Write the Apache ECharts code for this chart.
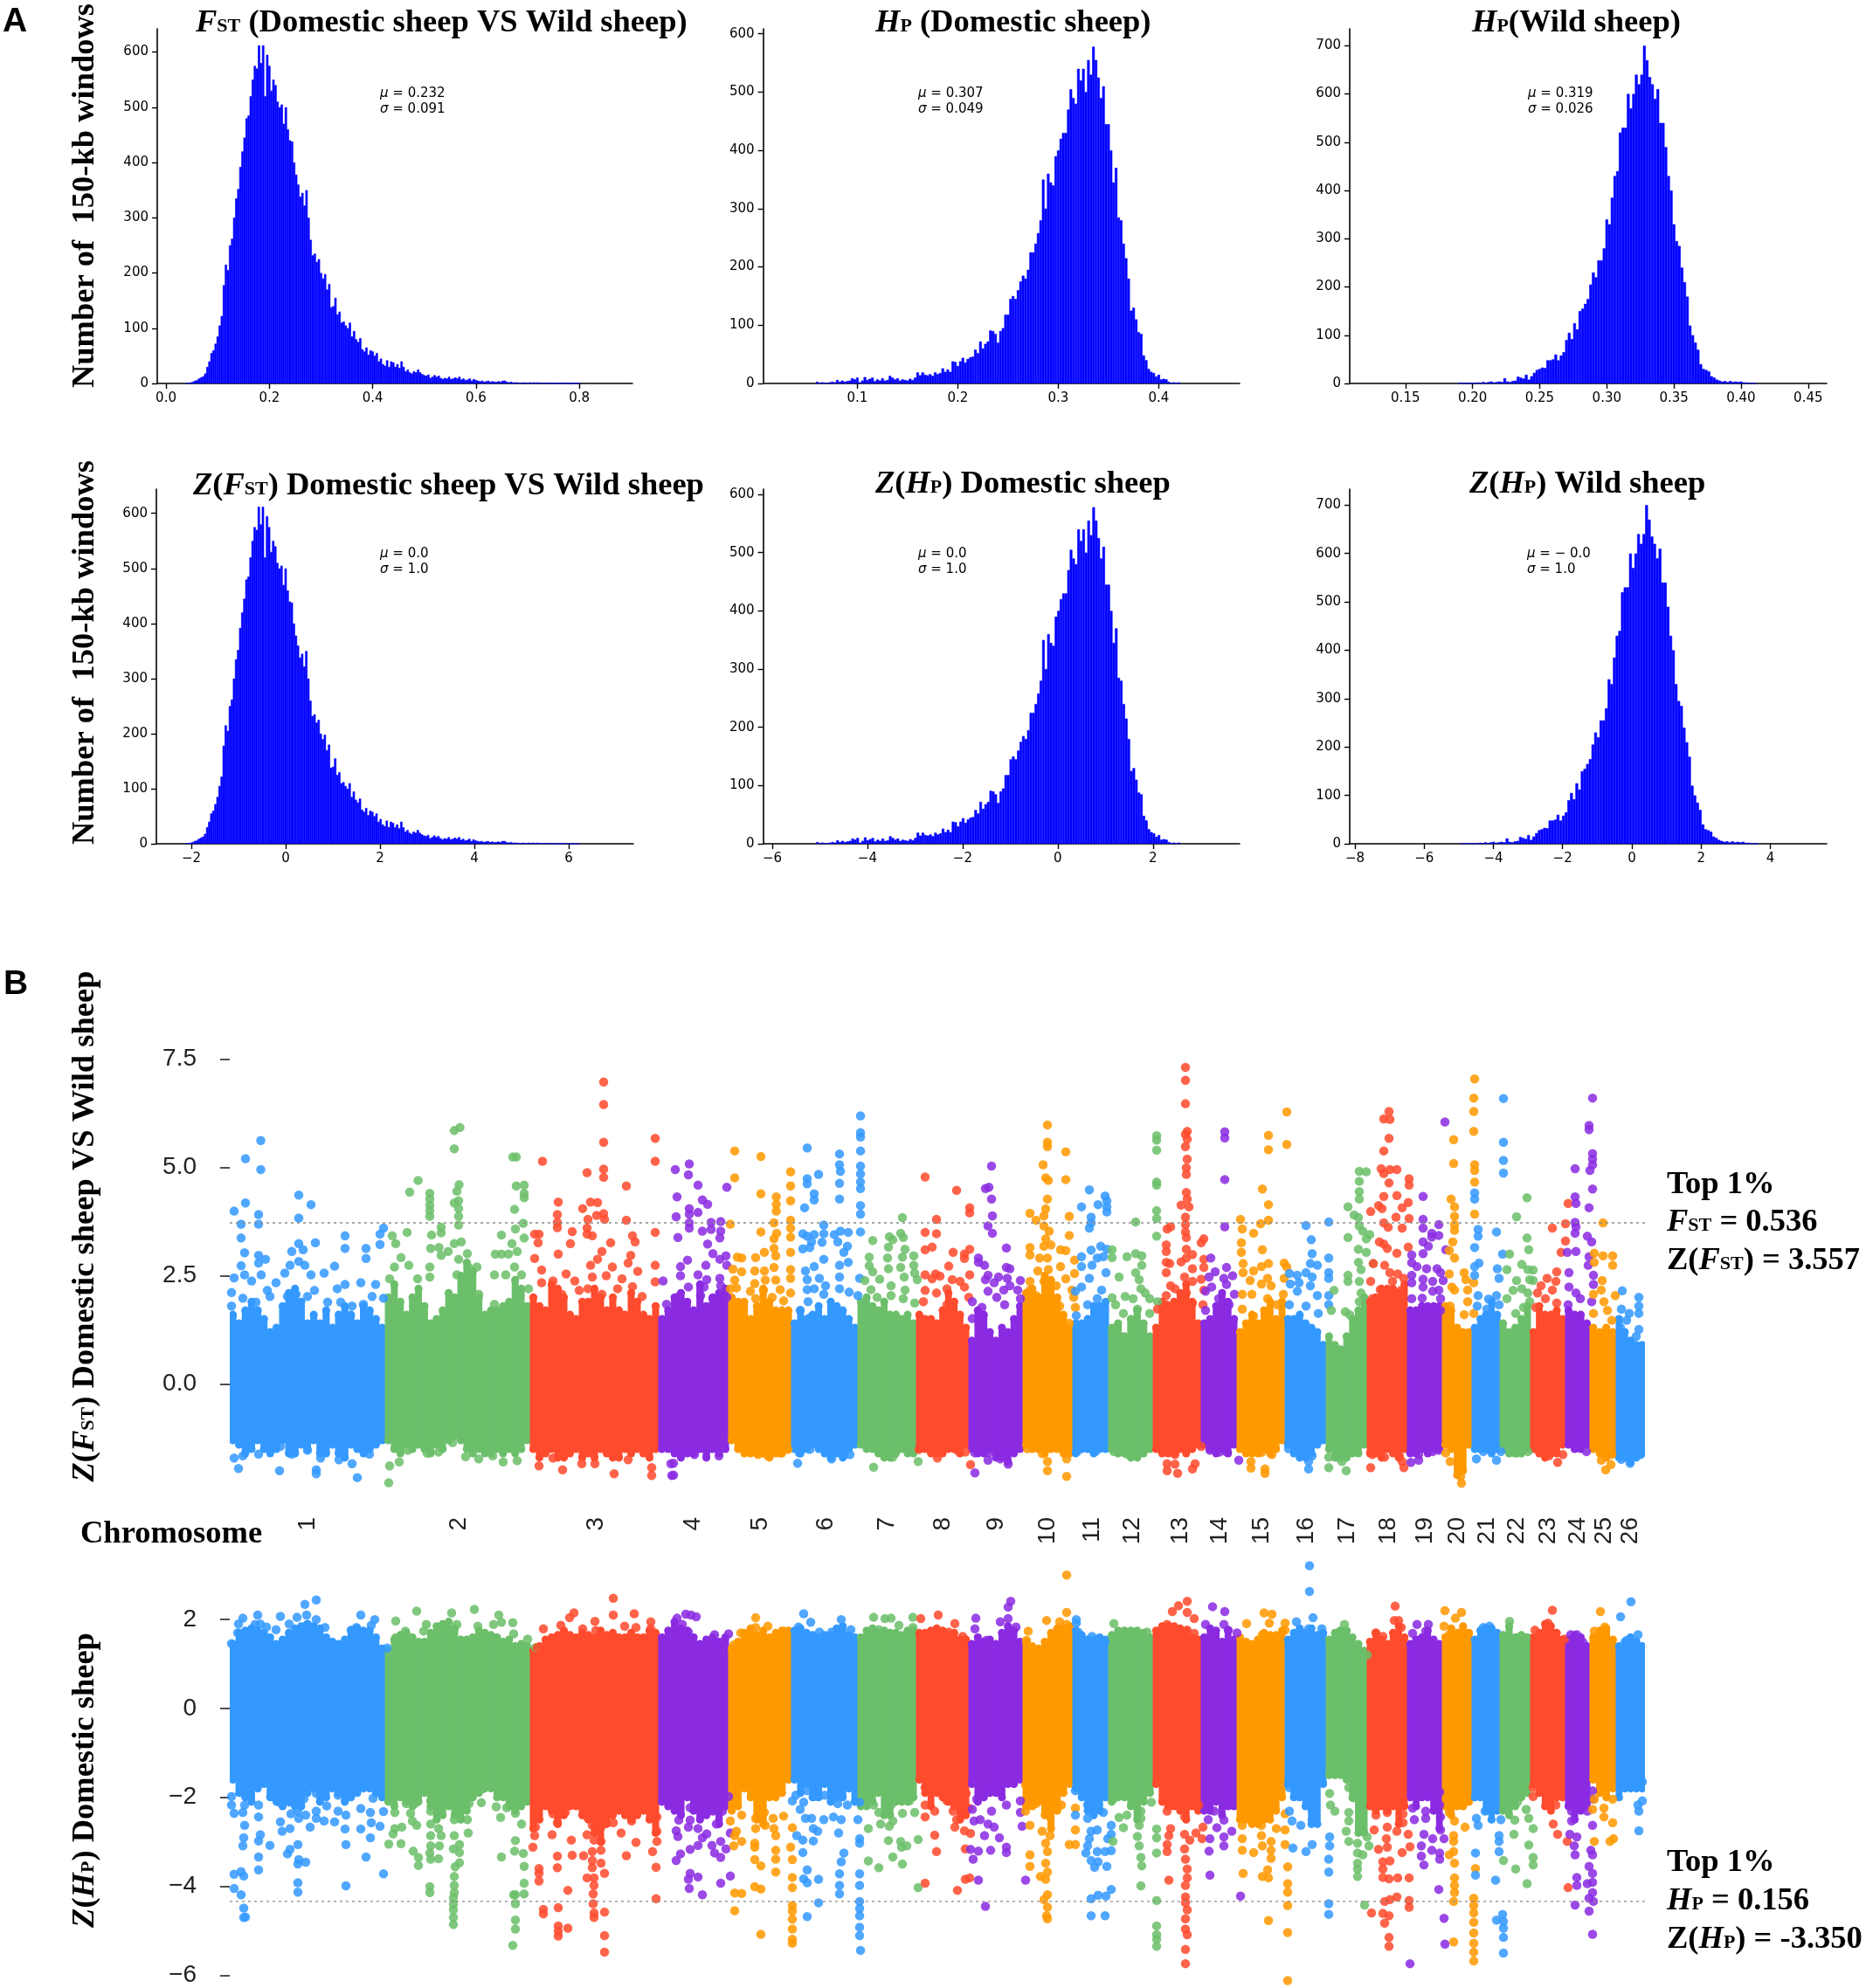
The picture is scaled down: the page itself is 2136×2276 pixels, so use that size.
<!DOCTYPE html>
<html><head><meta charset="utf-8">
<script src="https://cdn.jsdelivr.net/npm/echarts@6/dist/echarts.min.js"></script>
<style>html,body{margin:0;padding:0;background:#fff}#c{width:2136px;height:2276px}</style></head>
<body><div id="c"></div><script>
// ---------- histogram counts (panel A) ----------
const fstStart=0.04, fstStep=0.004;
const fstCounts=[1,1,2,3,5,6,9,11,13,18,30,40,55,60,72,85,105,122,178,215,205,250,262,300,335,352,392,420,445,480,485,520,550,575,570,612,580,612,520,595,575,530,550,540,510,500,505,470,500,460,440,438,400,378,360,338,345,322,350,300,260,232,235,220,225,200,190,198,170,180,138,140,155,125,130,110,112,105,100,110,85,95,80,75,82,62,58,65,52,60,58,50,55,40,45,35,32,42,30,40,38,30,35,28,40,30,22,25,20,18,22,20,25,20,17,15,14,16,10,12,15,12,14,10,8,10,9,12,8,9,11,9,12,7,9,6,7,9,5,8,6,5,4,5,3,4,5,3,4,3,3,4,3,5,5,3,2,3,2,2,2,1,1,2,1,1,2,1,2,1,2,1,1,1,0,1,1,0,0,1,0,0,0,1,1,0,0,0,1,0,1];
const hpDomStart=0.06, hpDomStep=0.0025;
const hpDomCounts=[3,1,2,1,1,2,3,2,6,3,5,3,4,5,9,7,10,2,5,11,6,8,10,4,7,5,9,5,6,13,10,7,9,5,7,6,5,8,6,10,19,14,19,15,14,16,13,19,16,18,26,20,24,20,38,37,30,38,44,36,42,45,46,58,52,72,60,68,72,91,90,85,70,90,95,118,118,145,150,145,160,175,185,180,195,225,225,240,258,280,350,300,360,345,340,390,400,420,430,430,470,505,490,480,540,520,540,500,555,530,578,555,525,490,510,445,445,400,345,370,285,280,240,215,180,125,130,110,88,85,48,40,25,20,18,12,15,7,8,7,3,1,2,1,2];
const hpWildStart=0.19, hpWildStep=0.002;
const hpWildCounts=[1,1,1,1,0,0,1,2,1,3,1,3,4,2,3,4,3,11,4,3,5,6,14,12,10,18,8,15,22,28,30,33,32,48,48,50,60,48,58,65,90,105,92,125,112,150,155,165,175,205,230,220,255,255,280,340,330,385,430,440,520,530,530,600,570,600,640,620,640,700,670,635,620,590,610,540,540,490,430,400,330,295,285,240,210,180,120,100,85,70,40,30,28,25,15,12,8,6,4,5,3,5,3,4,3,4,2,2,1,1,0];
// standardisation used by the Z panels (centre, scale)
const zFst=[0.232,0.0914], zHpDom=[0.2993,0.0474], zHpWild=[0.317,0.0258];
// tick labels
const ticks600=[0,100,200,300,400,500,600], ticks700=[0,100,200,300,400,500,600,700];
const xTicksFst=[0,0.2,0.4,0.6,0.8], xTicksHpDom=[0.1,0.2,0.3,0.4], xTicksHpWild=[0.15,0.2,0.25,0.3,0.35,0.4,0.45];
const xTicksZFst=[-2,0,2,4,6], xTicksZDom=[-6,-4,-2,0,2], xTicksZWild=[-8,-6,-4,-2,0,2,4];
// ---------- panel B ----------
const chrLabels=['1','2','3','4','5','6','7','8','9','10','11','12','13','14','15','16','17','18','19','20','21','22','23','24','25','26'];
const chrEdges=[263,441,607,754,834,906,982,1049,1109,1171,1228,1269,1320,1375,1416,1471,1518,1565,1611,1651,1685,1717,1752,1792,1820,1850,1883];
const chrMids=[352,525.5,682,793,870,945,1015,1079,1140,1199,1250,1296,1351,1396,1444.6,1495,1542,1589,1631,1668.5,1702,1736,1772,1806.6,1836,1866];
const fstThreshold=3.72, hpThreshold=-4.34;
// upper and lower edge of the densely filled band along each chromosome
const fstHi=[[1.6,1.4,1.7,1.9,1.7,1.5,1.2,1.3,1.8,2.1,2.2,1.9,1.4,1.6,1.4,1.7,1.3,1.6,1.8,1.6,1.4,1.8,1.7,1.5,1.3],[2.0,2.3,1.9,1.6,2.0,2.2,1.8,1.4,1.5,1.7,2.1,2.0,2.5,2.8,2.6,2.0,1.6,1.7,1.7,1.8,1.9,2.4,2.2,1.8],[2.0,1.8,1.7,2.3,2.2,2.0,1.6,1.5,1.9,1.9,2.2,2.0,1.7,2.0,1.7,1.6,2.1,1.9,1.6,1.5,1.8],[1.5,1.7,2.0,2.1,1.9,1.7,2.3,1.8,2.0,2.1,2.2],[2.0,1.9,1.9,1.5,1.8,2.2,1.9,1.7,1.7,1.7],[1.4,1.7,1.5,1.6,1.8,1.5,1.9,1.8,1.7,1.5,1.3],[1.9,2.0,1.8,1.7,1.9,1.6,1.6,1.5,1.6,1.4],[1.6,1.5,1.5,1.4,1.7,2.1,1.9,1.6,1.3],[1.0,1.7,1.6,1.2,1.0,1.3,1.2,1.5,1.8],[2.1,2.2,2.0,2.5,2.4,2.0,1.6,1.3],[1.4,1.4,1.5,1.8,1.8,1.9],[1.3,1.4,1.1,1.5,1.7,1.4,1.1],[1.3,1.9,1.8,1.9,2.1,2.3,1.9,1.4],[1.4,1.5,1.8,2.1,1.9,1.5],[1.2,1.4,1.6,1.4,1.7,1.9,1.5,1.9],[1.5,1.5,1.6,1.4,1.3,1.2,0.9],[1.1,0.9,0.8,1.1,1.5,1.7,2.0],[1.9,2.0,2.2,2.2,2.2,2.1,2.3],[1.7,1.7,1.8,1.8,1.8,1.8],[1.8,1.7,1.3,1.2,1.2],[1.3,1.5,1.6,1.9,1.6],[1.4,1.2,1.3,1.5,1.8],[1.2,1.8,1.6,1.6,1.7,1.5],[1.7,1.6,1.6,1.4],[1.3,1.2,1.3,1.2],[1.5,1.2,1.0,0.9,0.9]];
const fstLo=[[-1.3,-1.4,-1.6,-1.5,-1.3,-1.5,-1.6,-1.5,-1.3,-1.6,-1.6,-1.4,-1.5,-1.3,-1.6,-1.6,-1.4,-1.6,-1.7,-1.4,-1.5,-1.6,-1.5,-1.4,-1.3],[-1.3,-1.5,-1.6,-1.4,-1.5,-1.4,-1.5,-1.6,-1.4,-1.5,-1.3,-1.2,-1.3,-1.5,-1.6,-1.5,-1.6,-1.6,-1.5,-1.6,-1.5,-1.6,-1.5,-1.3],[-1.5,-1.7,-1.6,-1.5,-1.7,-1.7,-1.6,-1.5,-1.7,-1.6,-1.7,-1.5,-1.6,-1.7,-1.7,-1.5,-1.6,-1.5,-1.6,-1.7,-1.5],[-1.5,-1.5,-1.6,-1.7,-1.6,-1.6,-1.5,-1.7,-1.5,-1.6,-1.5],[-1.3,-1.5,-1.6,-1.6,-1.6,-1.6,-1.7,-1.6,-1.6,-1.5],[-1.5,-1.6,-1.5,-1.4,-1.5,-1.6,-1.7,-1.6,-1.7,-1.5,-1.4],[-1.4,-1.5,-1.5,-1.6,-1.7,-1.7,-1.6,-1.5,-1.6,-1.6],[-1.5,-1.5,-1.6,-1.6,-1.6,-1.5,-1.5,-1.6,-1.4],[-1.5,-1.6,-1.6,-1.5,-1.7,-1.7,-1.8,-1.6,-1.5],[-1.4,-1.5,-1.5,-1.6,-1.5,-1.5,-1.6,-1.6],[-1.6,-1.5,-1.5,-1.6,-1.5,-1.5],[-1.5,-1.6,-1.6,-1.7,-1.7,-1.6,-1.5],[-1.5,-1.6,-1.6,-1.6,-1.5,-1.6,-1.5,-1.4],[-1.4,-1.5,-1.6,-1.5,-1.6,-1.4],[-1.5,-1.6,-1.6,-1.6,-1.5,-1.6,-1.5,-1.3],[-1.4,-1.6,-1.7,-1.7,-1.6,-1.4,-1.3],[-1.5,-1.7,-1.7,-1.7,-1.6,-1.6,-1.4],[-1.6,-1.6,-1.7,-1.5,-1.6,-1.7,-1.5],[-1.6,-1.6,-1.5,-1.6,-1.5,-1.5],[-1.4,-1.5,-2.1,-2.0,-1.4],[-1.5,-1.5,-1.5,-1.6,-1.5],[-1.5,-1.6,-1.6,-1.6,-1.5],[-1.5,-1.6,-1.7,-1.6,-1.6,-1.4],[-1.4,-1.5,-1.5,-1.4],[-1.5,-1.6,-1.7,-1.6],[-1.7,-1.7,-1.8,-1.7,-1.6]];
const hpHi=[[1.45,1.7,1.75,1.8,1.75,1.7,1.6,1.45,1.55,1.7,1.8,1.85,1.9,1.85,1.8,1.6,1.5,1.45,1.55,1.75,1.8,1.75,1.75,1.6,1.35],[1.3,1.55,1.65,1.7,1.6,1.5,1.5,1.7,1.85,1.9,1.95,1.8,1.55,1.55,1.6,1.75,1.7,1.65,1.6,1.5,1.55,1.4,1.45,1.4],[1.3,1.4,1.55,1.6,1.65,1.75,1.65,1.6,1.7,1.65,1.6,1.75,1.65,1.7,1.6,1.6,1.7,1.6,1.6,1.75,1.7],[1.6,1.75,1.95,1.8,1.75,1.6,1.45,1.55,1.6,1.5,1.6],[1.35,1.5,1.7,1.8,1.65,1.75,1.6,1.7,1.75,1.75],[1.75,1.8,1.7,1.65,1.6,1.65,1.65,1.8,1.85,1.65,1.6],[1.6,1.75,1.8,1.7,1.75,1.7,1.7,1.65,1.75,1.75],[1.7,1.7,1.75,1.8,1.75,1.65,1.7,1.55,1.55],[1.45,1.6,1.5,1.55,1.45,1.7,1.85,1.75,1.5],[1.5,1.4,1.35,1.5,1.7,1.8,1.8,1.85],[1.75,1.65,1.55,1.55,1.6,1.55],[1.65,1.75,1.75,1.75,1.75,1.7,1.6],[1.75,1.85,1.85,1.85,1.8,1.75,1.6,1.55],[1.6,1.8,1.75,1.5,1.75,1.55],[1.6,1.5,1.45,1.55,1.7,1.65,1.65,1.75],[1.55,1.7,1.8,1.7,1.8,1.65,1.7],[1.55,1.7,1.75,1.75,1.6,1.45,1.3],[1.5,1.7,1.55,1.45,1.7,1.85,1.6],[1.45,1.55,1.6,1.75,1.55,1.45],[1.6,1.8,1.7,1.85,1.7],[1.55,1.75,1.8,1.8,1.7],[1.65,1.85,1.6,1.65,1.6],[1.6,1.7,1.9,1.85,1.7,1.55],[1.55,1.65,1.6,1.4],[1.6,1.75,1.8,1.55],[1.4,1.5,1.6,1.5,1.4]];
const hpLo=[[-1.6,-1.9,-2.0,-2.1,-1.8,-1.7,-2.0,-2.1,-2.2,-2.1,-2.2,-2.2,-1.9,-1.8,-2.1,-2.0,-1.8,-1.9,-2.1,-2.0,-1.9,-1.8,-1.8,-1.9,-2.0],[-2.1,-2.2,-2.0,-2.1,-2.2,-2.1,-1.9,-2.2,-2.5,-2.4,-2.2,-2.4,-2.5,-2.3,-2.0,-1.9,-1.8,-1.8,-2.0,-2.0,-2.2,-2.3,-2.2,-2.1],[-2.7,-2.5,-2.2,-2.3,-2.6,-2.4,-2.2,-2.2,-2.4,-2.5,-2.8,-3.0,-2.6,-2.4,-2.3,-2.4,-2.5,-2.4,-2.3,-2.5,-2.8],[-2.1,-2.2,-2.3,-2.4,-2.0,-2.3,-2.5,-2.4,-2.3,-2.6,-2.2],[-2.3,-2.2,-1.8,-2.0,-2.5,-2.6,-2.0,-2.0,-1.9,-1.6],[-1.6,-1.9,-1.7,-2.0,-2.0,-1.7,-2.1,-2.0,-2.0,-1.8,-2.1],[-2.2,-2.2,-2.1,-1.9,-2.4,-2.4,-2.1,-2.1,-2.1,-2.0],[-1.6,-1.9,-2.2,-1.9,-2.0,-2.1,-2.2,-2.5,-2.4],[-1.7,-2.1,-2.0,-1.9,-1.9,-2.0,-1.7,-1.7,-1.6],[-2.2,-2.2,-2.1,-2.4,-2.7,-2.3,-1.9,-1.7],[-1.8,-2.0,-2.3,-2.4,-2.3,-2.0],[-2.1,-2.0,-2.0,-2.2,-2.5,-2.1,-1.9],[-1.7,-2.1,-2.2,-2.2,-2.3,-2.5,-2.2,-2.3],[-2.3,-2.3,-2.1,-2.4,-2.2,-2.2],[-2.5,-2.5,-2.6,-2.6,-2.5,-2.5,-2.3,-2.0],[-1.7,-2.0,-2.0,-2.2,-2.6,-2.6,-1.7],[-1.5,-1.5,-1.5,-1.6,-2.0,-2.8,-2.8],[-2.2,-2.3,-2.2,-2.3,-2.2,-2.6,-2.2],[-2.0,-2.2,-2.0,-2.0,-2.3,-2.7],[-2.2,-2.4,-2.2,-2.2,-2.1],[-2.0,-2.0,-2.3,-2.5,-2.3],[-2.3,-2.4,-2.2,-2.0,-1.9],[-1.7,-1.9,-2.2,-2.3,-2.0,-2.0],[-2.2,-2.5,-2.3,-2.2],[-1.6,-1.9,-2.0,-1.8],[-2.0,-1.8,-1.8,-1.8,-1.8]];
// individual visible windows: position,value pairs per chromosome
const fstDots=[
[298.5,5.62,281,5.2,298.5,4.95,281,4.18,268,3.99,296,3.91,276,3.69,296,3.69,276,3.37,280,3.03,296,2.97,304,2.88,296,2.79,276,2.73,280,2.52,268,2.45,299,2.52,288,2.38,342,4.36,356,4.14,342,3.83,361,3.26,342,3.24,334,3.06,347,3.1,342,2.83,332,2.74,349,2.74,356,2.52,371,2.56,383,2.72,326,2.56,316,2.34,395,3.42,395,3.13,419,3.13,419,2.9,435,3.46,439,3.6,435,3.22,413,2.34,395,2.3,386,2.2,430,2.3,306,2.16,265,2.11,265,1.8,278,1.98,293,1.89,309,2.02,329,2.02,339,2.07,352,2.02,360,2.16,375,1.89,390,1.89,403,1.8,426,2.02,439,1.98,416,1.84,268,-1.71,273,-1.95,278,-1.66,320,-2,362,-1.98,362,-2.07,409,-2.16,403,-1.84,334,-1.62,296,-1.62,367,-1.71,388,-1.75,423,-1.62,321,-1.44,352,-1.53],
[520,5.85,526.5,5.92,520,5.43,478.6,4.7,469,4.43,525.5,4.6,492,4.4,523,4.45,492,4.27,492,4.13,492,4,492,3.87,525,4.23,520,4.18,525,4.05,525,3.87,525,3.67,587,5.24,591,5.24,591,4.57,600,4.59,600,4.4,600,4.3,589,4.03,599,3.71,590,3.58,600,3.37,574,3.44,505,3.62,505,3.49,466,3.5,449,3.42,494,3.44,453,3.24,459,2.92,451.5,2.7,446,2.43,468,2.74,478,2.43,493,3.13,502.5,3.15,505,2.97,513,3.06,520,3.24,528,3.28,535,3.01,525,2.88,536,2.7,546,2.7,567,3,574,3,582,3,586,3.24,592,3.06,566,2.52,579,2.52,589,2.7,597,2.52,605,2.2,492,2.7,492,2.47,523,2.52,536,2.2,548,2.07,566,1.84,446,-1.89,457,-1.8,445,-2.28,489,-1.6,502,-1.57,533,-1.68,548,-1.73,564,-1.66,576,-1.8,592,-1.77,467,-1.53,518,-1.35],
[621,5.14,750,5.67,750,5.14,691,6.97,691,6.45,691,5.58,691,4.96,691,4.77,672,4.88,717,4.57,639,4.2,667,4.05,676,4.2,684,4.19,683,3.89,691,3.93,692,3.8,638,3.91,638,3.73,638,3.61,673,3.8,672,3.6,717,3.78,750,3.5,612,3.46,617,3.46,616,3.26,655,3.52,672,3.46,678,3.42,653,3.24,699,3.26,724,3.42,727,3.28,639,3,612,2.9,689,3.06,684,2.88,722,2.97,719,2.79,676,2.74,701,2.7,750,2.74,730,2.6,620,2.63,648,2.54,658,2.38,678,2.47,694,2.5,712,2.43,750,2.36,620,2.34,633,2.38,663,2.16,673,2.2,724,2.25,735,2.02,643,2.07,689,2.07,707,2.2,617,-1.89,644,-1.98,703,-2.07,746,-1.93,746,-2.11,681,-1.84,666,-1.84,719,-1.75,633,-1.71],
[759,2.38,773,4.95,789,5.08,788,4.83,799,4.59,832,4.54,775,4.32,804,4.25,810,4.15,789,4.05,799,3.96,774,3.86,789,3.92,789,3.72,789,3.6,814,3.73,825,3.75,804,3.53,814,3.57,825,3.53,776,3.38,824,3.37,810,3.23,816,3.01,787,2.86,808,2.74,779,2.71,824,2.88,831,2.96,832,2.74,779,2.5,799,2.52,809,2.41,824,2.44,788,2.24,806,2.24,825,2.27,775,2,784,1.87,802,2.04,816,1.97,832,2,763,1.84,768,-1.84,769,-2.11,823,-1.66,771,-1.83,771,-2.1,795,-1.63,809,-1.53],
[841,5.38,871,5.25,841,4.76,871,4.39,905,4.9,905,4.57,905,4.23,888.6,4.32,888.6,4.15,888.6,3.99,836,3.69,905,3.78,905,3.6,905,3.39,886,3.72,871,3.51,889,3.48,886,3.35,886,3.13,888,2.96,905,3.04,875,3.04,865,2.92,844,2.93,849,2.91,839,2.65,849,2.59,864,2.61,875,2.61,886,2.69,905,2.64,841,2.4,864,2.32,876,2.4,888,2.4,905,2.44,836,2.2,843,2.22,859,2.14,874,2.17,893,2.18,905,2.1,884,2,897,1.92,865,1.97,859,-1.58,868,-1.63,879,-1.66,893,-1.59,902,-1.51],
[924,5.45,961,5.31,961,5.06,962,4.91,924,4.74,924,4.62,937,4.84,961,4.63,961,4.27,932,4.39,932,4.25,921,4.07,943,3.67,919,3.47,924,3.41,932,3.45,943,3.47,955,3.45,962,3.53,971,3.5,929,3.28,941,3.27,959,3.28,970,3.18,919,3.12,927,3.15,966,3.04,943,2.88,961,2.74,971,2.81,932,2.71,922,2.61,961,2.47,984,2.44,924,2.41,938,2.44,945,2.27,924,2.18,932,2.2,961,2.2,972,2.12,982,2.04,925,1.9,943,2.07,916,1.7,927,1.53,985,6.19,985,5.8,985,5.7,985,5.38,985,5.03,985,4.85,985,4.66,985,4.51,985,4.12,985,3.92,985,3.51,913,-1.83,927,-1.51,952,-1.73,966,-1.65,973,-1.63,915,-1.59],
[1033,3.84,999,3.31,1018,3.4,1031,3.48,1034,3.38,1022,3.33,1017,3.16,1036,3.11,995,2.93,1016,2.91,1033,2.93,1046,2.96,995,2.73,1017,2.66,1031,2.69,1046,2.74,999,2.59,1007,2.42,1035,2.47,1047,2.56,990,2.39,1020,2.27,1036,2.17,1050,2.41,997,2.18,1034,1.97,1004,2,1047,1.87,1020,2.04,1000,-1.92,1051,-1.79,1013,-1.66,1022,-1.69,1038,-1.49],
[1059,4.78,1095,4.47,1110,4.07,1110,3.95,1072,3.8,1059,3.5,1072,3.47,1059,3.1,1067,3.16,1091,3.04,1110,3.11,1104,3,1104,2.9,1086,2.72,1059,2.52,1067,2.43,1071,2.54,1076,2.49,1110,2.52,1090,2.41,1099,2.37,1059,2.16,1072,2.1,1084,2.2,1104,2.24,1057,1.9,1084,1.83,1109,2,1073,-1.71,1097,-1.55,1105,-1.57,1052,-1.51,1111,-1.86],
[1135,5.03,1128,4.51,1132,4.54,1135,4.27,1136,3.88,1131,3.65,1136,3.48,1152,3.14,1120,2.91,1120,2.81,1127,2.74,1152,2.69,1156,2.66,1131,2.51,1143,2.47,1153,2.44,1168,2.39,1128,2.41,1138,2.34,1156,2.27,1131,2.14,1149,2.17,1165,2.17,1141,2,1168,1.97,1113,1.9,1124,1.77,1150,1.83,1113,1.51,1116,-2.05,1132,-1.59,1154,-1.85,1145,-1.73,1131,-1.76,1116,-1.59],
[1199,5.98,1199,5.58,1199,5.48,1220,5.36,1194,5.06,1197,4.76,1200,4.7,1220,4.72,1199,4.27,1197,4.04,1179,3.94,1195,3.88,1224,3.87,1186,3.78,1195,3.65,1201,3.53,1224,3.43,1197,3.35,1179,3.15,1195,3.18,1203,3.21,1214,3.1,1220,3.08,1179,2.98,1190,2.91,1199,2.91,1214,2.71,1230,2.86,1188,2.61,1200,2.64,1230,2.55,1179,2.37,1195,2.37,1220,2.43,1209,2.27,1227,2.17,1179,2.17,1186,2.04,1213,1.8,1229,2,1231,1.77,1224,1.4,1199,-1.79,1199,-2,1221,-2.13,1193,-1.61,1221,-1.73,1176,-1.49],
[1247,4.48,1265,4.34,1267,4.23,1257,4.14,1238,4.09,1267,4.09,1267,3.97,1249,3.85,1249,3.72,1247,3.6,1238,2.94,1249,3.09,1260,3.18,1267,3.11,1256,2.91,1263,2.94,1238,2.71,1250,2.74,1266,2.57,1238,2.24,1247,2.44,1261,2.17,1245,1.83,1231,2.14,1232,1.58,1256,1.97,1233,-1.56,1254,-1.56,1246,-1.47],
[1300,3.74,1324,5.73,1324,5.63,1324,5.4,1324,4.66,1324,4.59,1324,4,1324,3.82,1324,3.41,1273,3.1,1273,2.92,1290,2.94,1300,3.01,1307,2.96,1307,2.74,1300,2.57,1281,2.47,1304,2.41,1306,2.2,1311,2.1,1273,1.99,1288,2.02,1297,1.97,1316,1.97,1325,1.9,1277,1.83,1302,1.73,1286,1.63,1277,1.3,1316,1.63,1282,1.1,1275,-1.56,1291,-1.63,1306,-1.59],
[1357,7.31,1357,7.01,1357,6.47,1359,5.83,1357,5.76,1359,5.65,1357,5.48,1359,5.19,1358,4.99,1358,4.84,1358,4.42,1359,4.27,1352,4.13,1361,4.09,1357,3.85,1357,3.68,1336,3.58,1357,3.51,1340,3.63,1358,3.38,1378,3.35,1375,3.26,1335,3.21,1335,3.06,1358,3.11,1365,2.99,1335,2.81,1339,2.78,1352,2.82,1358,2.91,1335,2.57,1365,2.66,1378,2.88,1378,2.69,1340,2.27,1356,2.47,1365,2.37,1375,2.42,1345,2.2,1335,2.04,1358,2.1,1378,2.17,1335,1.83,1365,1.87,1377,1.83,1325,1.73,1336,-1.84,1345,-1.85,1336,-2,1348,-2.06,1365,-1.96,1368,-1.84,1327,-1.49,1345,-1.63,1375,-1.44],
[1402,5.82,1402,5.68,1402,4.72,1402,3.63,1386,2.91,1404,2.69,1391,2.59,1411,2.5,1401,2.44,1384,2.47,1380,2.14,1387,2.24,1404,2.3,1413,2.07,1395,1.97,1407,1.83,1380,1.7,1418,-1.76,1385,-1.53,1396,-1.57,1404,-1.57],
[1473,6.28,1452,5.74,1473,5.53,1452,5.41,1445,4.5,1452,4.14,1452,3.78,1420,3.8,1443,3.7,1422,3.58,1435,3.48,1421,3.26,1421,3.04,1445,3.1,1423,2.78,1444,2.71,1452,2.78,1470,2.79,1473,2.7,1423,2.57,1435,2.61,1431,2.39,1451,2.44,1470,2.44,1444,2.31,1455,2.27,1422,2.07,1433,2.07,1469,2.07,1451,1.97,1422,1.73,1462,1.83,1435,1.57,1432,-1.94,1448,-1.96,1448,-2.06,1432,-1.79,1456,-1.63,1444,-1.58],
[1495,3.66,1521,3.74,1501,3.33,1502,3.01,1521,2.91,1500,2.78,1508,2.74,1476,2.55,1485,2.51,1495,2.57,1502,2.47,1521,2.57,1521,2.44,1477,2.31,1487,2.34,1500,2.27,1508,2.04,1485,2.14,1521,2.04,1476,1.83,1495,1.8,1509,1.63,1521,1.83,1498,-1.96,1475,-1.49,1498,-1.79,1502,-1.66],
[1556,4.91,1564,4.9,1556,4.68,1556,4.44,1556,4.27,1543,4.09,1550,3.9,1555,3.84,1556,3.65,1560,3.53,1568,3.45,1543,3.38,1564,3.35,1555,3.11,1564,3.04,1555,2.81,1543,2.51,1558,2.64,1572,2.78,1527,2.16,1543,2.37,1556,2.37,1558,2.1,1540,1.67,1545,1.6,1556,1.9,1524,1.7,1551,1.13,1521,-1.93,1541,-2,1536,-1.79,1521,-1.69,1531,-1.69],
[1590,6.29,1584,6.12,1591,6.11,1590,5.67,1584,5.38,1581,4.97,1591,4.95,1599,4.95,1584,4.86,1613,4.74,1590,4.64,1613,4.59,1584,4.33,1599,4.35,1612,4.19,1578,4.12,1569,3.98,1582,4.05,1605,4.07,1613,3.82,1598,3.85,1584,3.72,1589,3.62,1605,3.6,1579,3.28,1584,3.23,1588,3.13,1612,3.16,1599,3.02,1572,2.78,1585,2.74,1591,2.57,1600,2.54,1607,2.44,1569,2.37,1580,2.18,1594,2.37,1571,1.97,1604,2.17,1589,2.04,1569,-1.93,1607,-1.93,1605,-1.79,1585,-1.69,1571,-1.63,1602,-1.66],
[1654,6.05,1629,4.33,1629,3.8,1629,3.6,1647,3.68,1639,3.48,1629,3.28,1639,3.39,1647,3.43,1655,3.1,1635,3.18,1629,3.01,1616,2.98,1616,2.8,1622,2.71,1633,2.66,1645,2.66,1649,2.57,1616,2.51,1629,2.42,1640,2.37,1652,2.39,1616,2.34,1629,2.24,1640,2.14,1647,2.17,1616,1.97,1628,1.98,1649,1.97,1649,1.7,1615,-1.81,1624,-1.76,1624,-1.63,1640,-1.56,1647,-1.53],
[1664,5.64,1664,5.09,1661,4.27,1665,4.09,1665,3.87,1665,3.68,1665,3.55,1663,3.28,1659,3.08,1665,2.91,1659,2.54,1676,2.57,1678,2.41,1662,2.24,1665,2.17,1687,2.34,1680,2.17,1680,1.9,1687,1.63,1660,1.8,1676,1.6,1660,-1.79,1672,-2.13,1673,-2.29,1672,-1.96,1655,-1.59,1688,7.04,1687,6.6,1687,6.29,1687,5.83,1688,5.06,1688,4.93,1688,4.66,1688,3.92],
[1721,6.59,1721,5.58,1721,5.16,1721,4.87,1688,4.41,1688,4.27,1692,3.57,1713,3.51,1692,3.41,1688,3.15,1720,3,1693,2.79,1688,2.71,1688,2.51,1714,2.66,1716,2.44,1692,2.04,1704,1.96,1713,2.04,1691,1.8,1702,1.73,1716,1.83,1690,-1.73,1713,-1.76,1698,-1.56,1718,-1.56],
[1748,4.3,1736,3.86,1748,3.37,1750,3.1,1728,3,1742,2.76,1749,2.64,1755,2.63,1725,2.64,1736,2.39,1751,2.41,1755,2.39,1732,2.16,1742,2.2,1749,2.1,1725,1.97,1751,1.9,1735,1.63,1744,1.77,1731,-1.49,1749,-1.56,1736,-1.59],
[1777,3.6,1792,3.7,1792,3.3,1787,3.04,1782,2.59,1771,2.44,1781,2.37,1764,2.27,1760,2.1,1777,2.17,1769,1.97,1782,1.87,1758,1.77,1795,4.17,1783,-1.81,1789,-1.63,1773,-1.66,1762,-1.56],
[1823,6.6,1819,5.97,1819,5.87,1823,5.32,1823,5.19,1823,5.06,1820,4.93,1803,4.97,1823,4.5,1803,4.32,1804,4.17,1819,4.07,1803,3.73,1804,3.63,1803,3.48,1817,3.41,1822,3.28,1794,3.04,1804,3.06,1819,2.94,1818,2.74,1796,2.57,1824,2.51,1796,2.24,1824,2.3,1804,2.1,1809,1.97,1822,1.9,1795,1.83,1816,-1.56,1805,-1.42],
[1835,3.72,1825,3.02,1835,2.96,1846,2.96,1825,2.81,1846,2.74,1834,2.39,1833,2.17,1849,2.04,1824,2.07,1836,1.9,1824,1.63,1840,1.7,1845,1.47,1833,-1.76,1838,-1.98,1844,-1.86,1845,-1.63],
[1857,2.15,1876,2,1856,1.73,1865,1.63,1876,1.8,1862,1.47,1876,1.63,1876,1.26,1855,1.3,1873,1.1,1856,-1.74,1866,-1.83,1878,-1.63]];
const hpDots=[
[362,2.44,349,2.34,278,2.03,295,2.1,321,2.07,340,2.05,351,2.1,362,2,413,2.1,429,2,273,1.9,298,1.9,292,1.89,331,1.9,316,1.77,305,1.83,425,1.87,408,1.82,443,1.36,265,1.46,272,1.7,285,1.72,352,1.89,372,1.82,402,1.76,265,-1.98,279,-1.91,265,-2.17,280,-2.17,296,-2.17,310,-1.98,320,-2.11,332,-2.11,348,-2.03,362,-1.91,374,-2.19,387,-1.95,397,-1.99,427,-2.02,268,-2.36,278,-2.34,296,-2.44,280,-2.63,321,-2.55,323,-2.76,332,-2.7,341,-2.31,333,-2.37,342,-2.47,350,-2.4,355,-2.67,362,-2.31,362,-2.47,371,-2.53,383,-2.55,387,-2.31,396,-2.4,395,-2.71,413,-2.25,413,-2.71,424,-2.34,425,-2.57,435,-2.65,439,-2.32,279,-2.91,298,-2.84,296,-2.98,278,-3.09,309,-3.08,341,-3.06,396,-3.06,424,-2.91,332,-3.17,329,-3.27,296,-3.34,419,-3.34,342,-3.4,350,-3.46,341,-3.5,296,-3.63,268,-3.73,276,-3.67,279,-3.77,439,-3.72,341,-3.92,396,-3.99,341,-4.13,268,-4.05,276,-4.19,279,-4.49,279,-4.7,281,-4.69],
[477,2.19,453,1.97,517,2.15,543,2.23,571,2.1,587,1.93,488,1.89,507,1.85,523,1.89,547,1.85,574,1.94,565,1.89,588,1.68,604,1.56,464,1.74,453,1.59,485,1.74,613,1.37,552,-1.81,551,-2.12,574,-1.88,568,-2.21,493,-2.08,522,-2.01,537,-2.14,465,-2.14,475,-2.14,452,-2.34,470,-2.36,493,-2.31,502,-2.31,522,-2.31,580,-2.23,590,-2.36,573,-2.45,472,-2.53,452,-2.7,460,-2.67,477,-2.63,493,-2.6,502,-2.7,520,-2.5,535,-2.5,597,-2.6,450,-2.82,493,-2.86,505,-2.86,520,-2.86,536,-2.8,445,-3.05,459,-3.04,493,-3.09,503,-3.09,526,-3.06,590,-2.97,473,-3.21,492,-3.25,519,-3.16,526,-3.24,589,-3.21,599,-3.26,479,-3.35,493,-3.39,502,-3.38,574,-3.34,479,-3.53,526,-3.47,521,-3.56,600,-3.55,520,-3.78,492,-4.01,492,-4.14,520,-3.98,520,-4.14,519,-4.26,600,-3.93,600,-4.17,588,-4.19,590,-4.19,519,-4.4,590,-4.39,519,-4.53,519,-4.7,519,-4.86,590,-4.76,590,-4.96,587,-5.33],
[702,2.48,702,2.1,726,2.13,657,2.15,652,2.04,681,1.96,622,1.79,642,1.87,667,1.79,682,1.75,715,1.85,728,1.82,745,1.95,745,1.79,615,1.37,627,1.46,642,1.59,612,-2.17,633,-2.37,647,-2.34,672,-2.44,702,-2.57,723,-2.53,752,-2.44,613,-2.67,638,-2.57,678,-2.63,688,-2.67,612,-2.86,632,-2.84,711,-2.8,752,-2.76,654,-2.96,672,-2.84,680,-2.96,688,-2.99,728,-3.01,610,-3.12,747,-3.22,752,-2.99,638,-3.32,655,-3.3,668,-3.31,678,-3.22,688,-3.19,717,-3.31,678,-3.42,617,-3.6,638,-3.58,617,-3.71,678,-3.58,692,-3.71,688,-3.48,751,-3.57,617,-3.88,672,-3.81,680,-3.81,680,-3.98,650,-4.09,679,-4.17,679,-4.39,751,-4.28,622,-4.52,622,-4.62,639,-4.48,692,-4.58,680,-4.6,680,-4.7,639,-4.89,650,-4.94,639,-5.01,639,-5.12,692,-5.11,692,-5.48],
[775,2.03,785,2.12,791,2.1,797,2.06,781,1.89,788,1.72,818,1.66,834,1.68,827,1.49,775,-1.78,791,-1.88,806,-1.98,824,-1.91,834,-1.98,775,-2.17,790,-2.23,806,-2.37,816,-2.31,827,-2.31,777,-2.51,790,-2.51,820,-2.6,799,-2.7,788,-2.67,809,-2.82,774,-2.75,776,-2.88,804,-2.91,836,-2.8,799,-3.08,815,-3.08,825,-2.99,790,-3.17,831,-3.16,779,-3.27,774,-3.42,818,-3.25,825,-3.35,790,-3.71,799,-3.79,788,-3.84,836,-3.77,825,-3.93,789,-4.05,804,-4.19],
[865,2.04,879,1.85,848,1.7,865,1.82,897,1.74,840,1.43,849,-2.4,865,-2.47,875,-2.34,885,-2.47,897,-2.42,836,-2.53,865,-2.7,876,-2.63,907,-2.68,886,-2.7,843,-2.76,841,-2.86,888,-2.86,849,-2.99,864,-3.03,840,-3.09,864,-3.12,905,-3.12,888,-3.19,888,-3.39,864,-3.4,871,-3.54,907,-3.4,888,-3.68,907,-3.8,864,-4.01,871,-4.06,907,-4.03,841,-4.15,849,-4.16,907,-4.43,907,-4.56,841,-4.55,907,-4.74,907,-4.96,871,-5.08,907,-5.19,907,-5.28],
[920,2.13,928,1.94,963,2,974,1.77,914,1.83,938,1.72,952,1.72,911,-1.95,924,-1.85,932,-1.98,944,-1.95,984,-2.11,907,-2.08,920,-2.11,959,-2.14,970,-2.17,916,-2.27,922,-2.47,929,-2.47,943,-2.5,954,-2.44,963,-2.5,982,-2.5,931,-2.7,936,-2.76,960,-2.8,912,-2.86,919,-2.96,931,-2.98,984,-2.93,984,-3.03,919,-3.24,966,-3.25,963,-3.45,924,-3.63,961,-3.72,984,-3.72,920,-3.83,937,-3.84,924,-3.92,961,-3.98,984,-3.98,961,-4.17,937,-4.37,984,-4.34,984,-4.5,984,-4.66,924,-4.68,984,-4.92,984,-5.11,985,-5.44],
[1000,2.05,1013,2.02,1020,2.03,1045,2.05,1029,1.87,1045,1.82,1006,1.77,1000,-2.17,1020,-2.17,1041,-2.08,1047,-2.34,1033,-2.36,1006,-2.34,1022,-2.53,1018,-2.65,1008,-2.6,994,-2.7,1017,-2.97,1031,-2.99,1038,-3.09,1032,-3.12,1051,-2.95,1022,-3.34,994,-3.43,1033,-3.5,1006,-3.58,1051,-4.03],
[1054,2.02,1074,2.1,1093,1.91,1086,1.72,1102,1.62,1059,-1.78,1072,-1.78,1059,-2.17,1070,-2.31,1084,-2.08,1091,-2.31,1059,-2.44,1099,-2.04,1106,-1.91,1109,-2.24,1100,-2.34,1095,-2.5,1093,-2.67,1104,-2.75,1111,-2.81,1070,-2.85,1072,-3.22,1105,-3.16,1059,-3.93,1096,-4.09,1105,-3.84,1110,-3.81],
[1117,2.03,1157,2.41,1154,2.28,1145,1.95,1154,2.02,1116,1.79,1163,1.83,1129,1.53,1127,-1.78,1145,-1.78,1118,-2.04,1152,-2.17,1135,-2.31,1168,-2.08,1168,-2.34,1113,-2.27,1115,-2.53,1122,-2.5,1131,-2.6,1138,-2.67,1170,-2.65,1127,-2.86,1144,-2.91,1111,-3.17,1120,-3.21,1134,-3.19,1152,-3.12,1152,-3.24,1114,-3.39,1120,-3.86,1174,-3.86,1128,-4.45],
[1221,3,1221,2.16,1198,1.98,1213,1.95,1177,1.74,1221,1.89,1175,1.53,1174,-1.72,1216,-1.78,1186,-2.14,1174,-2.31,1199,-2.17,1215,-2.17,1231,-2.24,1202,-2.44,1179,-2.63,1193,-2.76,1202,-2.86,1231,-2.73,1197,-3.03,1231,-3.06,1224,-3.06,1199,-3.22,1179,-3.29,1197,-3.48,1179,-3.55,1199,-3.68,1191,-3.78,1197,-3.84,1199,-4.19,1195,-4.3,1199,-4.47,1198,-4.66,1199,-4.73],
[1232,2,1232,1.92,1234,1.72,1250,1.62,1265,1.49,1231,-1.85,1245,-2.17,1263,-2.34,1231,-2.4,1245,-2.47,1272,-2.63,1249,-2.76,1256,-2.73,1272,-2.83,1247,-2.93,1268,-2.93,1245,-3.09,1243,-3.25,1256,-3.22,1265,-3.22,1272,-3.2,1249,-3.42,1257,-3.45,1253,-3.57,1267,-3.55,1272,-4.07,1257,-4.2,1266,-4.22,1249,-4.28,1249,-4.66,1265,-4.66],
[1275,1.91,1291,1.69,1313,1.72,1302,1.66,1274,-2.04,1288,-1.85,1297,-2.17,1318,-2.11,1306,-2.31,1306,-2.47,1281,-2.45,1290,-2.4,1304,-2.63,1286,-2.68,1324,-2.71,1324,-2.91,1274,-2.99,1302,-2.88,1304,-3.09,1324,-3.25,1306,-3.35,1307,-3.54,1306,-3.99,1324,-4.32,1324,-4.89,1324,-5.09,1324,-5.19,1324,-5.35],
[1359,2.41,1349,2.31,1342,2.18,1359,2.16,1367,2.02,1336,1.89,1359,1.76,1346,1.69,1367,1.69,1343,-2.17,1336,-2.31,1372,-2.17,1356,-2.44,1340,-2.7,1377,-2.67,1356,-2.83,1338,-2.86,1369,-2.8,1376,-2.93,1362,-2.96,1336,-3.06,1336,-3.22,1356,-3.16,1357,-3.39,1359,-3.61,1338,-3.86,1359,-3.81,1357,-3.98,1357,-4.24,1357,-4.37,1359,-4.53,1357,-4.73,1357,-4.96,1359,-5.09,1357,-5.42,1357,-5.74],
[1388,2.29,1402,2.18,1380,1.89,1401,1.89,1406,1.76,1416,1.7,1385,-2.04,1403,-2.11,1390,-2.31,1383,-2.5,1401,-2.51,1393,-2.68,1410,-2.76,1385,-2.93,1401,-2.89,1401,-3.09,1384,-3.21,1385,-3.75,1420,-4.22],
[1447,2.15,1456,2.12,1427,1.91,1453,1.92,1445,1.66,1471,1.92,1471,1.76,1424,-2.44,1445,-2.47,1471,-2.37,1422,-2.63,1444,-2.63,1461,-2.7,1471,-2.73,1444,-2.86,1422,-2.93,1455,-2.99,1422,-3.19,1435,-3.24,1445,-3.09,1471,-3.06,1455,-3.19,1455,-3.37,1474,-3.56,1423,-3.71,1451,-3.63,1445,-3.78,1452,-3.81,1474,-3.94,1474,-4.13,1474,-4.43,1452,-4.77,1474,-5.04,1474,-6.12],
[1499,3.21,1499,2.63,1503,2.04,1484,1.95,1513,1.79,1498,1.79,1476,-1.78,1487,-1.98,1502,-1.91,1476,-2.31,1502,-2.31,1479,-2.53,1489,-2.63,1502,-2.5,1522,-2.89,1522,-3.09,1480,-3.14,1502,-3.06,1495,-3.22,1521,-3.39,1521,-3.68,1521,-4.39,1521,-4.63],
[1539,1.89,1534,1.74,1565,1.2,1522,-1.91,1523,-2.17,1528,-2.31,1544,-1.78,1549,-2.01,1560,-2.31,1544,-2.34,1544,-2.53,1557,-2.63,1541,-2.76,1565,-2.89,1544,-2.99,1554,-3.03,1567,-3.09,1554,-3.25,1560,-3.29,1554,-3.48,1554,-3.61,1554,-3.78,1562,-4.42],
[1597,2.3,1601,1.98,1596,1.98,1604,1.82,1575,1.7,1583,1.62,1575,-1.98,1591,-2.11,1606,-2.04,1575,-2.4,1588,-2.34,1606,-2.37,1573,-2.73,1588,-2.67,1606,-2.57,1587,-2.93,1599,-2.76,1612,-2.83,1578,-3.17,1588,-3.12,1605,-3.24,1614,-3.11,1583,-3.45,1591,-3.43,1583,-3.61,1583,-3.8,1590,-3.83,1600,-3.81,1613,-3.81,1599,-4.24,1585,-4.34,1591,-4.3,1613,-4.32,1613,-4.47,1570,-4.6,1583,-4.61,1590,-4.66,1585,-4.83,1590,-5.15,1590,-5.35],
[1622,1.89,1635,1.89,1632,1.74,1617,1.69,1617,-1.72,1627,-1.98,1648,-1.88,1617,-2.24,1632,-2.31,1648,-2.17,1619,-2.5,1632,-2.47,1649,-2.44,1649,-2.73,1630,-2.83,1640,-2.93,1627,-3.09,1653,-2.93,1639,-3.19,1627,-3.32,1648,-3.25,1630,-3.52,1648,-3.39,1647,-4.07,1653,-4.72,1654,-5.3,1614,-5.74],
[1654,2.2,1673,2.16,1666,2.03,1653,1.85,1659,1.66,1674,1.74,1659,-2.17,1677,-2.11,1659,-2.34,1665,-2.53,1677,-2.67,1664,-2.86,1664,-2.99,1664,-3.22,1659,-3.29,1665,-3.48,1689,-3.6,1665,-3.81,1665,-3.98,1665,-4.14,1664,-4.34,1687,-4.27,1687,-4.43,1687,-4.6,1687,-4.81,1687,-5.05,1687,-5.28,1687,-5.48,1687,-5.68,1664,-5.25],
[1705,1.85,1698,1.82,1690,1.49,1690,-1.91,1711,-1.91,1700,-2.31,1690,-2.47,1718,-2.5,1692,-2.63,1716,-2.86,1716,-2.99,1716,-3.22,1689,-3.25,1689,-3.75,1712,-3.86,1720,-4.63,1713,-4.76,1721,-4.79,1721,-4.94,1721,-5.15,1721,-5.5],
[1728,1.96,1737,1.59,1747,1.59,1737,-2.11,1747,-2.27,1734,-2.51,1750,-2.47,1755,-2.7,1733,-2.83,1750,-3.07,1755,-3.35,1755,-3.52,1721,-3.42,1735,-3.61,1748,-3.94],
[1777,2.21,1772,1.92,1757,1.76,1781,1.69,1791,1.56,1755,-1.78,1781,-2.17,1778,-2.6,1783,-2.83,1755,-1.98,1794,-2.99,1795,-4.03],
[1798,1.66,1805,1.66,1812,1.49,1797,-2.04,1812,-1.85,1823,-1.85,1799,-2.31,1823,-2.04,1817,-2.31,1799,-2.53,1823,-2.63,1797,-2.83,1805,-2.89,1802,-3.09,1803,-3.29,1821,-3.19,1823,-3.29,1819,-3.55,1823,-3.71,1805,-3.8,1817,-3.94,1805,-3.98,1823,-3.91,1823,-4.14,1819,-4.27,1824,-4.34,1803,-4.42,1819,-4.56,1823,-5.08],
[1832,2.18,1837,1.83,1825,1.74,1825,-2.04,1836,-2.24,1836,-2.44,1846,-2.04,1823,-2.27,1846,-2.57,1825,-2.99,1843,-2.99,1847,-2.93],
[1867,2.4,1855,2.06,1875,1.66,1862,1.53,1862,-1.75,1880,-1.65,1880,-2.08,1875,-2.17,1876,-2.31,1876,-2.75]];

const palette=['#3399FF','#6CBF6A','#FF4B2D','#8A2BE2','#FF9900'];
const DJ='DejaVu Sans', SERIF='Liberation Serif', SANS='Liberation Sans';

// ---------- option ----------
const grids=[],xAxes=[],yAxes=[],series=[];
function histPanel(cfg){
  const i=grids.length;
  grids.push({left:cfg.l,top:cfg.t,width:cfg.w,height:406});
  xAxes.push({gridIndex:i,type:'value',min:cfg.xMin,max:cfg.xMax,splitLine:{show:false},
    axisLine:{onZero:false,lineStyle:{color:'#000',width:1.6}},
    axisTick:{customValues:cfg.xTicks,length:6,lineStyle:{color:'#000',width:1.4}},
    axisLabel:{customValues:cfg.xTicks,margin:10,fontFamily:DJ,fontSize:15,color:'#000',formatter:v=>cfg.xFmt(v).replace('-','\u2212')}});
  yAxes.push({gridIndex:i,type:'value',min:0,max:cfg.yMax,splitLine:{show:false},
    axisLine:{show:true,onZero:false,lineStyle:{color:'#000',width:1.6}},
    axisTick:{show:true,customValues:cfg.yTicks,length:6,lineStyle:{color:'#000',width:1.4}},
    axisLabel:{customValues:cfg.yTicks,margin:10,fontFamily:DJ,fontSize:15,color:'#000'}});
  series.push({type:'bar',xAxisIndex:i,yAxisIndex:i,barWidth:cfg.bw,silent:true,animation:false,
    itemStyle:{color:'#0000FF',borderColor:'#0000FF',borderWidth:0.6},data:cfg.counts.map((c,k)=>[cfg.xf(cfg.start+k*cfg.step),c])});
}
const fmt0=v=>String(v), fmt1=v=>v.toFixed(1), fmt2=v=>v.toFixed(2), id=v=>v;
const zf=p=>v=>(v-p[0])/p[1];
histPanel({l:180,t:33,w:544,xMin:-0.017,xMax:0.903,yMax:642,xTicks:xTicksFst,yTicks:ticks600,xFmt:fmt1,counts:fstCounts,start:fstStart,step:fstStep,xf:id,bw:2.6});
histPanel({l:873.6,t:33,w:545.4,xMin:0.00625,xMax:0.4805,yMax:608.6,xTicks:xTicksHpDom,yTicks:ticks600,xFmt:fmt1,counts:hpDomCounts,start:hpDomStart,step:hpDomStep,xf:id,bw:3});
histPanel({l:1545,t:33,w:546,xMin:0.1085,xMax:0.4638,yMax:735,xTicks:xTicksHpWild,yTicks:ticks700,xFmt:fmt2,counts:hpWildCounts,start:hpWildStart,step:hpWildStep,xf:id,bw:3.2});
histPanel({l:179,t:560,w:546,xMin:-2.74,xMax:7.37,yMax:644,xTicks:xTicksZFst,yTicks:ticks600,xFmt:fmt0,counts:fstCounts,start:fstStart,step:fstStep,xf:zf(zFst),bw:2.6});
histPanel({l:873.6,t:560,w:545.4,xMin:-6.19,xMax:3.82,yMax:609,xTicks:xTicksZDom,yTicks:ticks600,xFmt:fmt0,counts:hpDomCounts,start:hpDomStart,step:hpDomStep,xf:zf(zHpDom),bw:3});
histPanel({l:1545,t:560,w:546,xMin:-8.15,xMax:5.63,yMax:733,xTicks:xTicksZWild,yTicks:ticks700,xFmt:fmt0,counts:hpWildCounts,start:hpWildStart,step:hpWildStep,xf:zf(zHpWild),bw:3.2});

function pairs(flat){const o=[];for(let i=0;i<flat.length;i+=2)o.push([flat[i],flat[i+1]]);return o;}
function manhattan(cfg){
  const i=grids.length;
  grids.push({left:263,top:cfg.t,width:1620,height:cfg.b-cfg.t});
  xAxes.push({gridIndex:i,type:'value',min:263,max:1883,splitLine:{show:false},axisLine:{show:false},axisTick:{show:false},
    axisLabel:cfg.chrAxis?{show:true,customValues:chrMids,rotate:90,margin:39,fontFamily:SANS,fontSize:28,color:'#222',
      formatter:v=>chrLabels[chrMids.indexOf(v)]}:{show:false}});
  yAxes.push({gridIndex:i,type:'value',min:cfg.yMin,max:cfg.yMax,splitLine:{show:false},axisLine:{show:false},
    axisTick:{show:true,customValues:cfg.ticks,length:11,lineStyle:{color:'#222',width:1.6}},
    axisLabel:{customValues:cfg.ticks,margin:38,fontFamily:SANS,fontSize:28,color:'#222',formatter:v=>cfg.fmt(v).replace('-','\u2212')}});
  chrLabels.forEach((lab,c)=>{
    const col=palette[c%5], n=cfg.hi[c].length, x0=chrEdges[c], w=(chrEdges[c+1]-x0)/n;
    series.push({type:'custom',xAxisIndex:i,yAxisIndex:i,clip:true,silent:true,animation:false,
      data:cfg.hi[c].map((h,k)=>[x0+(k+0.5)*w,cfg.lo[c][k],h,w]),
      renderItem:(p,api)=>{
        const x=api.value(0),top=api.coord([x,api.value(2)]),bot=api.coord([x,api.value(1)]),pw=api.size([api.value(3),0])[0]+1;
        return {type:'group',children:[
          {type:'rect',shape:{x:top[0]-pw/2,y:top[1],width:pw,height:bot[1]-top[1]},style:{fill:col}},
          {type:'circle',shape:{cx:top[0],cy:top[1],r:4.6},style:{fill:col}},
          {type:'circle',shape:{cx:bot[0],cy:bot[1],r:4.6},style:{fill:col}}]};
      }});
    series.push({type:'scatter',xAxisIndex:i,yAxisIndex:i,clip:true,silent:true,animation:false,symbolSize:10.5,
      itemStyle:{color:col,opacity:0.86},data:pairs(cfg.dots[c])});
  });
  series.push({type:'line',xAxisIndex:i,yAxisIndex:i,silent:true,animation:false,symbol:'none',z:5,
    lineStyle:{color:'#8a8a8a',width:1.3,type:[3,4]},data:[[263,cfg.thr],[1883,cfg.thr]]});
}
manhattan({t:1200,b:1698,yMin:-2.288,yMax:7.752,ticks:[0,2.5,5,7.5],fmt:fmt1,hi:fstHi,lo:fstLo,dots:fstDots,thr:fstThreshold,chrAxis:true});
manhattan({t:1790,b:2268,yMin:-6.13,yMax:3.26,ticks:[-6,-4,-2,0,2],fmt:fmt0,hi:hpHi,lo:hpLo,dots:hpDots,thr:hpThreshold,chrAxis:false});

// ---------- text ----------
const FS=36.5;
const rich={
  n:{fontFamily:SERIF,fontWeight:'bold',fontSize:FS,color:'#000'},
  i:{fontFamily:SERIF,fontWeight:'bold',fontStyle:'italic',fontSize:FS,color:'#000'},
  s:{fontFamily:SERIF,fontWeight:'bold',fontSize:22,color:'#000',padding:[7,0,0,0]},
  m:{fontFamily:DJ,fontSize:15,color:'#000',lineHeight:18},
  g:{fontFamily:DJ,fontStyle:'italic',fontSize:15,color:'#000',lineHeight:18}
};
const T=(text,x,y,o={})=>({type:'text',x,y,rotation:o.rot||0,scaleX:o.sx||1,silent:true,
  style:{text,rich,align:o.align||'left',verticalAlign:'middle'}});
const graphics=[
  T('{i|F}{s|ST}{n| (Domestic sheep VS Wild sheep)}',224,27),
  T('{i|H}{s|P}{n| (Domestic sheep)}',1002,27),
  T('{i|H}{s|P}{n|(Wild sheep)}',1685,27),
  T('{i|Z}{n|(}{i|F}{s|ST}{n|) Domestic sheep VS Wild sheep}',221,557),
  T('{i|Z}{n|(}{i|H}{s|P}{n|) Domestic sheep}',1002,555),
  T('{i|Z}{n|(}{i|H}{s|P}{n|) Wild sheep}',1682,555),
  T('{n|Number of  150-kb windows}',98,224,{rot:Math.PI/2,align:'center'}),
  T('{n|Number of  150-kb windows}',98,747,{rot:Math.PI/2,align:'center'}),
  T('{i|Z}{n|(}{i|F}{s|ST}{n|) Domestic sheep VS Wild sheep}',98,1404,{rot:Math.PI/2,align:'center'}),
  T('{i|Z}{n|(}{i|H}{s|P}{n|) Domestic sheep}',98,2038,{rot:Math.PI/2,align:'center'}),
  T('{n|Chromosome}',92,1757),
  T('{n|Top 1%}',1908,1357),
  T('{i|F}{s|ST}{n| = 0.536}',1908,1400),
  T('{n|Z(}{i|F}{s|ST}{n|) = 3.557}',1908,1444),
  T('{n|Top 1%}',1908,2133),
  T('{i|H}{s|P}{n| = 0.156}',1908,2177),
  T('{n|Z(}{i|H}{s|P}{n|) = -3.350}',1908,2221),
  {type:'text',x:3,y:25,silent:true,style:{text:'A',fontFamily:SANS,fontWeight:'bold',fontSize:39,fill:'#000',align:'left',verticalAlign:'middle'}},
  {type:'text',x:4,y:1127,silent:true,style:{text:'B',fontFamily:SANS,fontWeight:'bold',fontSize:39,fill:'#000',align:'left',verticalAlign:'middle'}}
];
[['0.232','0.091',435,107],['0.307','0.049',1051,107],['0.319','0.026',1749,107],['0.0','1.0',435,634],['0.0','1.0',1051,634],['\u2212 0.0','1.0',1748,634]].forEach(a=>{
  graphics.push(T(`{g|\u03bc}{m| = ${a[0]}}`,a[2],a[3]));
  graphics.push(T(`{g|\u03c3}{m| = ${a[1]}}`,a[2],a[3]+18));
});
const chart=echarts.init(document.getElementById('c'),null,{renderer:'canvas'});
chart.setOption({animation:false,backgroundColor:'#fff',grid:grids,xAxis:xAxes,yAxis:yAxes,series,graphic:{elements:graphics}});
</script></body></html>
